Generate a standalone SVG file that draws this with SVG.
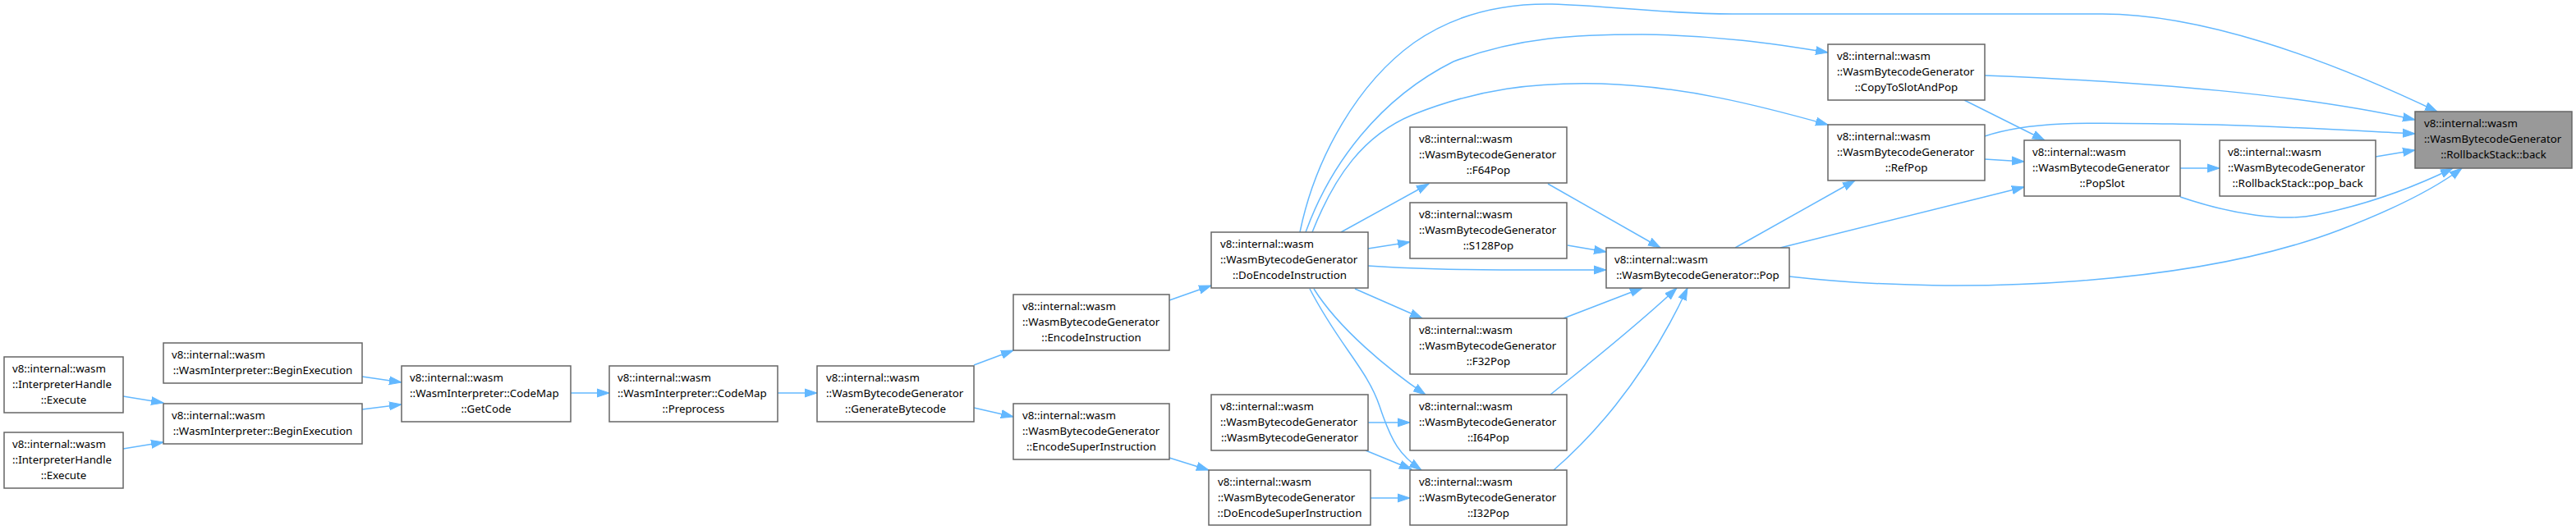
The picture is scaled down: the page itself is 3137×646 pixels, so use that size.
<svg xmlns="http://www.w3.org/2000/svg" width="3137" height="646" viewBox="0 0 3137 646">
<style>
.n rect{fill:#ffffff;stroke:#666666;stroke-width:1.5}
.n.root rect{fill:#999999}
.n text{font-family:"Noto Sans","Liberation Sans",Arial,sans-serif;font-size:13.3px;fill:#000000}
.n text.c{text-anchor:middle}
#edges path{fill:none;stroke:#63b8ff;stroke-width:1.5;marker-end:url(#ah)}
</style>
<defs>
<marker id="ah" markerUnits="userSpaceOnUse" markerWidth="16" markerHeight="12" viewBox="0 0 16 12" refX="15" refY="6" orient="auto"><path d="M0,1 L15,6 L0,11 z" fill="#63b8ff" stroke="#63b8ff" stroke-width="1"/></marker>
</defs>
<rect width="3137" height="646" fill="#ffffff"/>
<g id="edges">
<path d="M150,483 L199,491"/>
<path d="M150,547 L199,539"/>
<path d="M441,459 L489,466"/>
<path d="M441,499 L489,493"/>
<path d="M695,479 L742,479"/>
<path d="M947,479 L995,479"/>
<path d="M1186,445 L1234,427"/>
<path d="M1186,497 L1234,508"/>
<path d="M1424,366 L1475,348"/>
<path d="M1424,558 L1472,573"/>
<path d="M1669,607 L1717,607"/>
<path d="M1666,515 L1717,515"/>
<path d="M1663,549 L1719,572"/>
<path d="M1633,283 L1740,224"/>
<path d="M1666,303 L1717,295"/>
<path d="M1666,324 C1750,330 1850,329 1956,329"/>
<path d="M1650,352 L1732,388"/>
<path d="M1600,352 C1630,400 1690,450 1736,481"/>
<path d="M1595,352 C1630,420 1665,450 1680,495 C1695,540 1705,555 1731,573"/>
<path d="M1885,224 L2022,302"/>
<path d="M1909,299 L1956,307"/>
<path d="M1904,388 L2000,351"/>
<path d="M1888,481 C1920,455 1990,400 2042,351"/>
<path d="M1892,573 C1930,540 2000,470 2055,351"/>
<path d="M2113,302 L2259,220"/>
<path d="M2168,302 L2465,228"/>
<path d="M2179,337 C2400,362 2680,345 2850,280 C2920,253 2965,230 2998,205"/>
<path d="M2655,240 C2720,262 2780,270 2820,262 C2880,250 2940,228 2987,205"/>
<path d="M2655,205 L2703,205"/>
<path d="M2893,191 L2941,183"/>
<path d="M2417,92 C2620,100 2800,115 2941,146"/>
<path d="M2392,122 L2490,171"/>
<path d="M2417,166 C2480,145 2560,150 2700,152 C2800,155 2880,160 2941,163"/>
<path d="M2417,194 L2465,197"/>
<path d="M1583,283 C1602,190 1655,100 1722,52 C1772,17 1830,4 1890,5 C1960,7 2030,17 2110,17 L2560,17 C2680,17 2830,70 2968,136"/>
<path d="M1590,283 C1620,200 1680,120 1770,75 C1850,45 1920,42 2000,42 C2090,43 2160,53 2226,64"/>
<path d="M1598,283 C1625,215 1660,165 1720,140 C1800,108 1870,100 1950,102 C2050,105 2140,128 2226,152"/>
</g>
<g id="n1" class="n"><rect x="5" y="435" width="145" height="68"/><text x="15" y="454">v8::internal::wasm</text><text x="15" y="473">::InterpreterHandle</text><text class="c" x="77.5" y="492">::Execute</text></g>
<g id="n2" class="n"><rect x="5" y="527" width="145" height="68"/><text x="15" y="546">v8::internal::wasm</text><text x="15" y="565">::InterpreterHandle</text><text class="c" x="77.5" y="584">::Execute</text></g>
<g id="n3" class="n"><rect x="199" y="418" width="242" height="49"/><text x="209" y="437">v8::internal::wasm</text><text class="c" x="320" y="456">::WasmInterpreter::BeginExecution</text></g>
<g id="n4" class="n"><rect x="199" y="492" width="242" height="49"/><text x="209" y="511">v8::internal::wasm</text><text class="c" x="320" y="530">::WasmInterpreter::BeginExecution</text></g>
<g id="n5" class="n"><rect x="489" y="446" width="206" height="68"/><text x="499" y="465">v8::internal::wasm</text><text x="499" y="484">::WasmInterpreter::CodeMap</text><text class="c" x="592" y="503">::GetCode</text></g>
<g id="n6" class="n"><rect x="742" y="446" width="205" height="68"/><text x="752" y="465">v8::internal::wasm</text><text x="752" y="484">::WasmInterpreter::CodeMap</text><text class="c" x="844.5" y="503">::Preprocess</text></g>
<g id="n7" class="n"><rect x="995" y="446" width="191" height="68"/><text x="1006" y="465">v8::internal::wasm</text><text x="1006" y="484">::WasmBytecodeGenerator</text><text class="c" x="1090.5" y="503">::GenerateBytecode</text></g>
<g id="n8" class="n"><rect x="1234" y="359" width="190" height="68"/><text x="1245" y="378">v8::internal::wasm</text><text x="1245" y="397">::WasmBytecodeGenerator</text><text class="c" x="1329" y="416">::EncodeInstruction</text></g>
<g id="n9" class="n"><rect x="1234" y="492" width="190" height="68"/><text x="1245" y="511">v8::internal::wasm</text><text x="1245" y="530">::WasmBytecodeGenerator</text><text class="c" x="1329" y="549">::EncodeSuperInstruction</text></g>
<g id="n10" class="n"><rect x="1475" y="283" width="191" height="68"/><text x="1486" y="302">v8::internal::wasm</text><text x="1486" y="321">::WasmBytecodeGenerator</text><text class="c" x="1570.5" y="340">::DoEncodeInstruction</text></g>
<g id="n11" class="n"><rect x="1475" y="481" width="191" height="68"/><text x="1486" y="500">v8::internal::wasm</text><text x="1486" y="519">::WasmBytecodeGenerator</text><text class="c" x="1570.5" y="538">::WasmBytecodeGenerator</text></g>
<g id="n12" class="n"><rect x="1472" y="573" width="197" height="67"/><text x="1483" y="592">v8::internal::wasm</text><text x="1483" y="611">::WasmBytecodeGenerator</text><text class="c" x="1570.5" y="630">::DoEncodeSuperInstruction</text></g>
<g id="n13" class="n"><rect x="1717" y="155" width="191" height="68"/><text x="1728" y="174">v8::internal::wasm</text><text x="1728" y="193">::WasmBytecodeGenerator</text><text class="c" x="1812.5" y="212">::F64Pop</text></g>
<g id="n14" class="n"><rect x="1717" y="247" width="191" height="68"/><text x="1728" y="266">v8::internal::wasm</text><text x="1728" y="285">::WasmBytecodeGenerator</text><text class="c" x="1812.5" y="304">::S128Pop</text></g>
<g id="n15" class="n"><rect x="1717" y="388" width="191" height="68"/><text x="1728" y="407">v8::internal::wasm</text><text x="1728" y="426">::WasmBytecodeGenerator</text><text class="c" x="1812.5" y="445">::F32Pop</text></g>
<g id="n16" class="n"><rect x="1717" y="481" width="191" height="68"/><text x="1728" y="500">v8::internal::wasm</text><text x="1728" y="519">::WasmBytecodeGenerator</text><text class="c" x="1812.5" y="538">::I64Pop</text></g>
<g id="n17" class="n"><rect x="1717" y="573" width="191" height="67"/><text x="1728" y="592">v8::internal::wasm</text><text x="1728" y="611">::WasmBytecodeGenerator</text><text class="c" x="1812.5" y="630">::I32Pop</text></g>
<g id="n18" class="n"><rect x="1956" y="302" width="223" height="49"/><text x="1966" y="321">v8::internal::wasm</text><text class="c" x="2067.5" y="340">::WasmBytecodeGenerator::Pop</text></g>
<g id="n19" class="n"><rect x="2226" y="54" width="191" height="68"/><text x="2237" y="73">v8::internal::wasm</text><text x="2237" y="92">::WasmBytecodeGenerator</text><text class="c" x="2321.5" y="111">::CopyToSlotAndPop</text></g>
<g id="n20" class="n"><rect x="2226" y="152" width="191" height="68"/><text x="2237" y="171">v8::internal::wasm</text><text x="2237" y="190">::WasmBytecodeGenerator</text><text class="c" x="2321.5" y="209">::RefPop</text></g>
<g id="n21" class="n"><rect x="2465" y="171" width="190" height="68"/><text x="2475" y="190">v8::internal::wasm</text><text x="2475" y="209">::WasmBytecodeGenerator</text><text class="c" x="2560" y="228">::PopSlot</text></g>
<g id="n22" class="n"><rect x="2703" y="171" width="190" height="68"/><text x="2713" y="190">v8::internal::wasm</text><text x="2713" y="209">::WasmBytecodeGenerator</text><text class="c" x="2798" y="228">::RollbackStack::pop_back</text></g>
<g id="n23" class="n root"><rect x="2941" y="136" width="191" height="69"/><text x="2952" y="155">v8::internal::wasm</text><text x="2952" y="174">::WasmBytecodeGenerator</text><text class="c" x="3036.5" y="193">::RollbackStack::back</text></g>
</svg>
